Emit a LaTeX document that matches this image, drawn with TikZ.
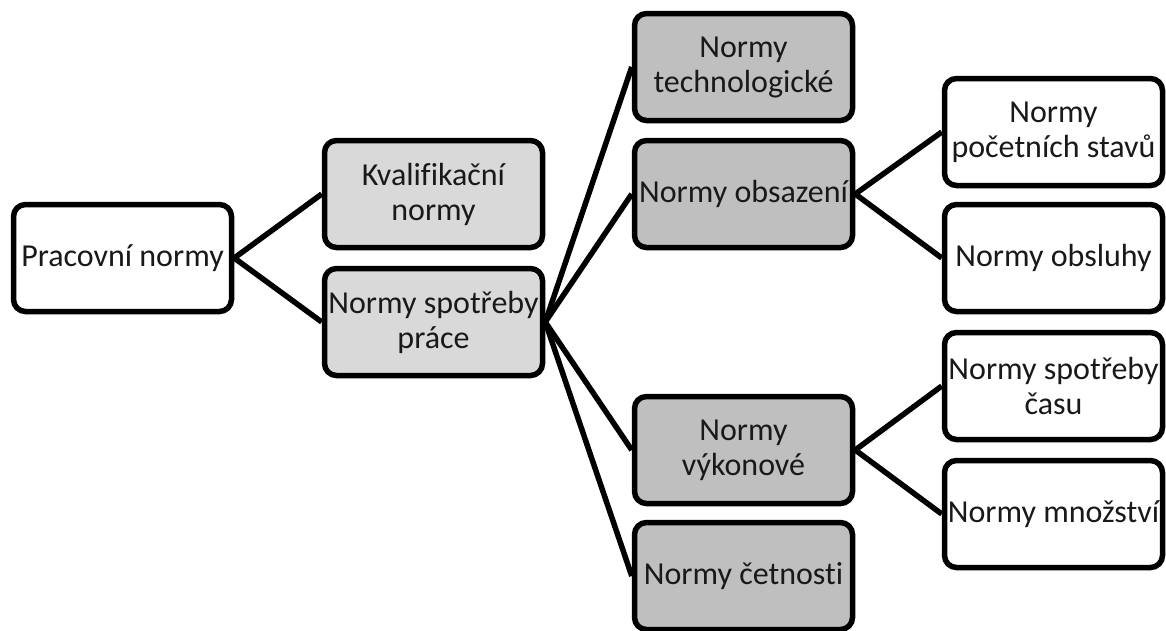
\documentclass[tikz,border=0pt]{standalone}
\usepackage{fontspec}
\setmainfont{Carlito}[Ligatures=NoCommon]
\begin{document}
\begin{tikzpicture}[x=1pt,y=-1pt,
  box/.style={draw=black, line width=5.5pt, rounded corners=12pt,
    minimum width=218pt, minimum height=107pt, inner sep=0pt,
    align=center, font=\fontsize{32}{35}\selectfont, text=black!90},
  lvlA/.style={box, fill=white},
  lvlB/.style={box, fill=black!15},
  lvlC/.style={box, fill=black!25},
  link/.style={line width=5.5pt, line join=round}]
\useasboundingbox (0,0) rectangle (1166,630);
% first level
\node[lvlA] (prac) at (122.5,258) {Pracovní normy};
% second level
\node[lvlB] (kval) at (433.5,194) {Kvalifikační\\normy};
\node[lvlB] (spot) at (433.5,322) {Normy spotřeby\\práce};
% third level
\node[lvlC] (tech) at (743.5,67) {Normy\\technologické};
\node[lvlC] (obsa) at (743.5,194) {Normy obsazení};
\node[lvlC] (vyko) at (743.5,450) {Normy\\výkonové};
\node[lvlC] (cetn) at (743.5,576) {Normy četnosti};
% fourth level
\node[lvlA] (pocs) at (1053.5,132) {Normy\\početních stavů};
\node[lvlA] (obsl) at (1053.5,258) {Normy obsluhy};
\node[lvlA] (casu) at (1053.5,386) {Normy spotřeby\\času};
\node[lvlA] (mnoz) at (1053.5,514) {Normy množství};
% connectors
\draw[link] (kval.west) -- (prac.east) -- (spot.west);
\draw[link] (spot.east) -- (tech.west);
\draw[link] (spot.east) -- (obsa.west);
\draw[link] (spot.east) -- (vyko.west);
\draw[link] (spot.east) -- (cetn.west);
\draw[link] (pocs.west) -- (obsa.east) -- (obsl.west);
\draw[link] (casu.west) -- (vyko.east) -- (mnoz.west);
\end{tikzpicture}
\end{document}
